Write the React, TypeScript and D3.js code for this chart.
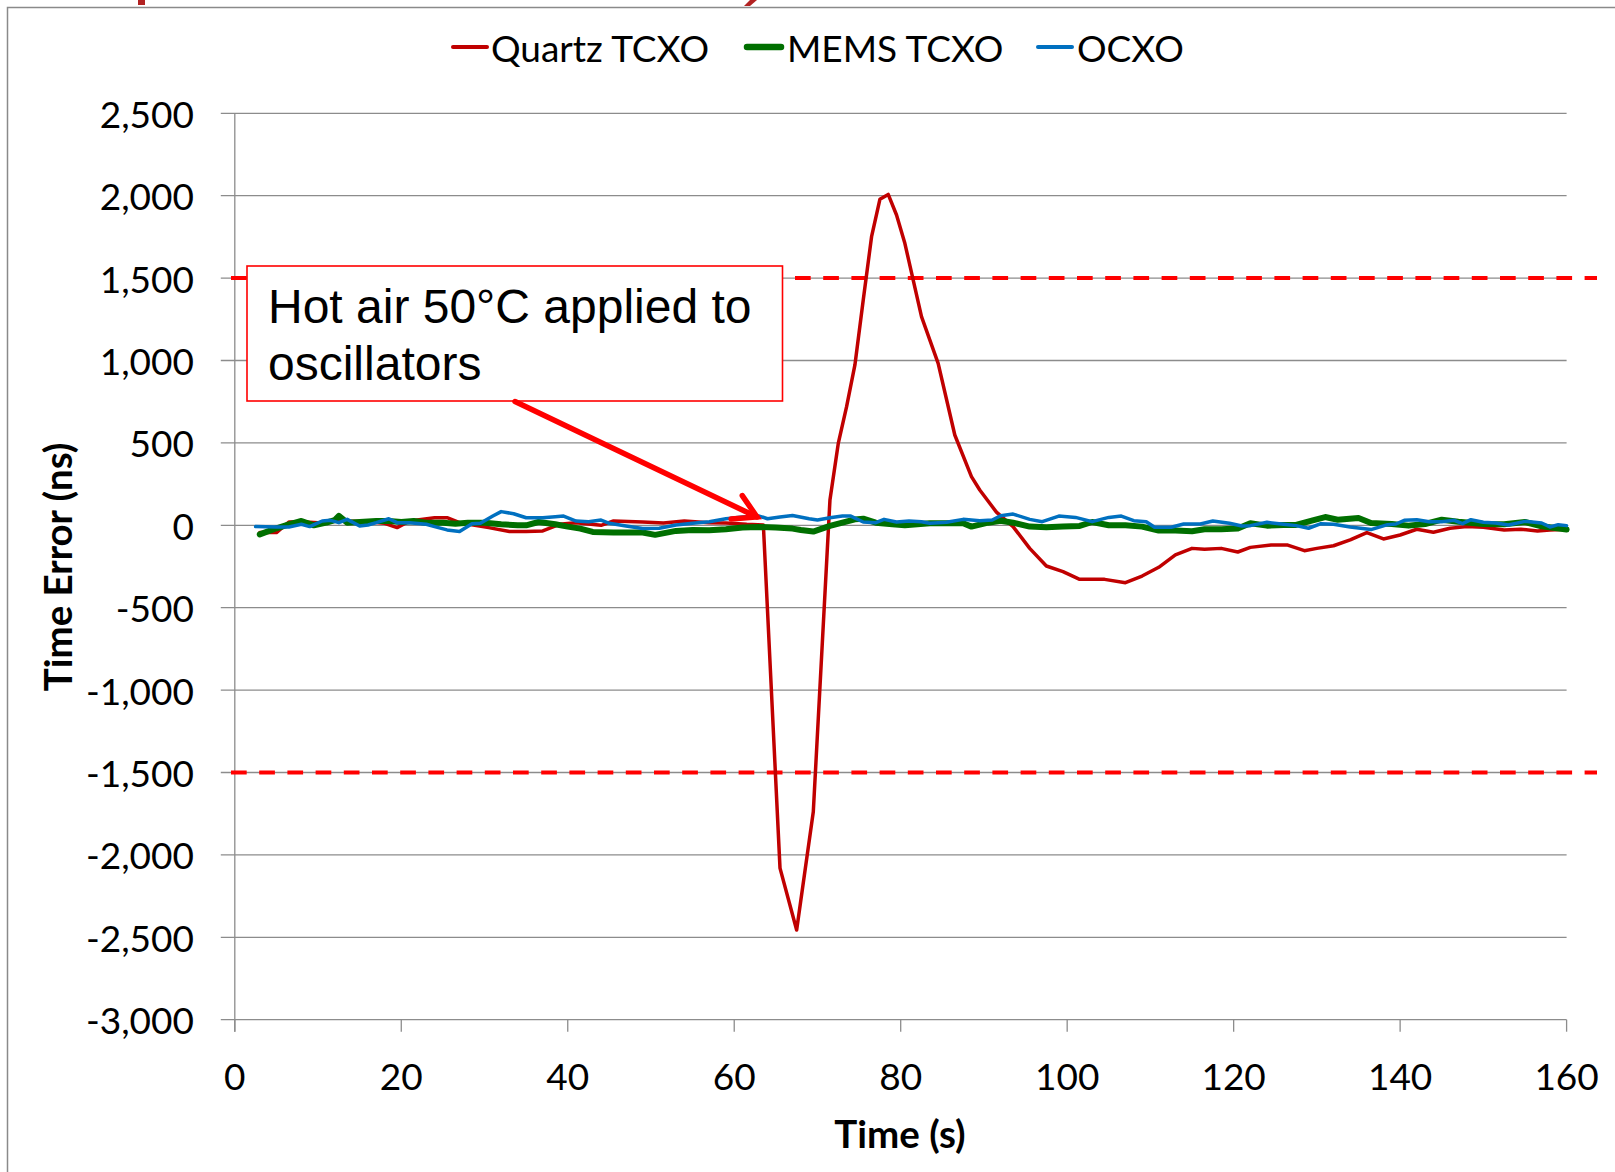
import React from "react";
import * as d3 from "d3";

type Pt = [number, number];

// Time (s), Time Error (ns)
const quartzTCXO: Pt[] = [
  [3, -44], [5, -44], [6.5, 20], [8, 22], [10, 15], [12, 25], [14, 25], [16, 22], [18, 12], [19.5, -14],
  [21, 26], [24, 46], [25.5, 46], [27, 16], [30.5, -14], [33, -38], [35, -38], [37, -34], [39, 6], [41, 16],
  [44, 0], [45.5, 26], [49, 20], [51.5, 14], [54, 26], [57, 16], [59, 14], [61.5, 6], [63.5, 2], [65.5, -2080],
  [67.5, -2456], [69.5, -1738], [71.5, 153], [72.5, 497], [73.5, 720], [74.5, 973], [75.5, 1367], [76.5, 1751],
  [77.5, 1978], [78.5, 2008], [79.5, 1883], [80.5, 1711], [82.5, 1266], [84.5, 983], [86.5, 548], [88.5, 295],
  [89.5, 214], [91.5, 80], [93.5, -8], [95.5, -140], [97.5, -247], [99.5, -281], [101.5, -328], [104.5, -328],
  [107, -348], [109, -308], [111, -255], [113, -180], [115, -140], [116.5, -146], [118.5, -140], [120.5, -162],
  [122, -134], [124.5, -120], [126.5, -120], [128.5, -154], [130, -140], [132, -124], [134, -89], [136, -44],
  [138, -83], [140, -59], [142, -24], [144, -42], [146, -18], [148, -8], [150, -12], [152.5, -28], [154.5, -24],
  [156.5, -34], [158, -28], [160, -24],
];

const memsTCXO: Pt[] = [
  [3, -55], [5, -18], [6.5, 6], [8, 26], [9.5, 0], [11, 16], [12, 32], [12.5, 57], [13.5, 16], [15, 20],
  [17, 26], [18.5, 26], [20, 20], [21.5, 26], [23, 16], [25, 16], [26.5, 10], [28, 16], [30, 16], [32, 6],
  [34, 0], [35, 0], [36.5, 20], [38.5, 6], [40, -8], [41.5, -20], [43, -40], [45.5, -44], [49, -44], [50.5, -58],
  [53, -34], [55, -28], [57, -30], [59, -24], [61, -14], [63, -10], [65, -14], [67, -20], [68, -28], [69.5, -38],
  [71.5, -4], [73, 16], [74.5, 36], [75.5, 40], [77, 16], [79, 6], [80.5, 0], [82, 6], [83.5, 12], [85.5, 12],
  [87.5, 12], [88.5, -8], [90.5, 16], [92, 28], [93.5, 16], [95.5, -8], [97.5, -12], [99.5, -8], [101.5, -4],
  [103, 20], [105, 0], [107, 0], [109, -8], [111, -32], [113, -32], [115, -36], [116.5, -24], [118.5, -24],
  [120.5, -20], [122, 12], [124, -2], [126, 2], [127.5, 2], [129.5, 30], [131, 50], [132.5, 34], [135, 44],
  [136.5, 14], [139, 8], [141, -2], [143, 8], [145, 34], [147, 22], [150, 8], [152.5, 6], [155, 20], [157, -6],
  [160, -26],
];

const ocxo: Pt[] = [
  [2.5, -8], [5, -10], [6.5, -10], [8, 6], [9, -8], [10.5, 26], [11.5, 30], [12.5, 16], [13.5, 36], [15, -4],
  [16, 2], [17, 16], [18.5, 40], [19.5, 16], [21, 16], [23, 6], [24, -8], [25.5, -28], [27, -38], [28.5, 10],
  [29.5, 12], [31, 56], [32, 83], [33.5, 70], [35, 46], [37, 46], [38.5, 52], [39.5, 56], [41, 26], [42.5, 22],
  [44, 32], [45, 12], [47, -4], [49, -20], [51, -18], [53, 2], [55, 12], [57, 22], [59, 40], [61, 50],
  [63, 56], [64, 40], [65.5, 50], [67, 60], [69, 40], [70, 32], [71.5, 46], [73, 56], [74, 56], [75.5, 20],
  [77, 16], [78, 36], [79.5, 20], [81, 26], [82.5, 22], [83.5, 12], [85.5, 18], [87.5, 36], [89.5, 28], [91, 32],
  [92, 58], [93.5, 68], [95.5, 36], [97, 22], [99, 56], [101, 48], [103, 22], [105, 48], [106.5, 56], [108, 28],
  [109.5, 22], [110.5, -12], [112.5, -12], [114, 8], [116, 8], [117.5, 26], [119.5, 12], [121, -4], [122, -2],
  [124, 18], [126, 6], [127.5, -2], [129, -18], [130.5, 10], [132, 6], [134, -10], [136.5, -26], [138.5, 4],
  [139.5, 8], [140.5, 30], [142, 34], [143.5, 22], [145, 22], [146.5, 30], [147.5, 10], [148.5, 34], [150, 18],
  [151.5, 14], [153, 2], [155, 24], [157, 14], [158, -10], [159, 4], [160, -2],
];

const seriesNames = ["Quartz TCXO", "MEMS TCXO", "OCXO"];
const seriesColors = ["#C00000", "#006F00", "#0070C0"];
const seriesWidths = [3.5, 6, 3.5];

const xTicks = [0, 20, 40, 60, 80, 100, 120, 140, 160];
const yTicks = [-3000, -2500, -2000, -1500, -1000, -500, 0, 500, 1000, 1500, 2000, 2500];
const limitLines = [1500, -1500];

const annotationLines = ["Hot air 50°C applied to", "oscillators"];

const W = 1615;
const H = 1172;
const FONT = "Lato, 'Open Sans', sans-serif";

export default function App() {
  const x = d3.scaleLinear().domain([0, 160]).range([234.8, 1566.6]);
  const y = d3.scaleLinear().domain([-3000, 2500]).range([1019.7, 113.3]);
  const line = d3
    .line<Pt>()
    .x((d) => x(d[0]))
    .y((d) => y(d[1]));
  const fmt = (v: number) => d3.format(",")(v).replace("\u2212", "-");
  const data = [quartzTCXO, memsTCXO, ocxo];

  // arrow geometry
  const ax0 = 515, ay0 = 401.5, ax1 = 757, ay1 = 517;
  const ang = Math.atan2(ay0 - ay1, ax0 - ax1);
  const armLen = 26;
  const arm = (da: number) => [ax1 + armLen * Math.cos(ang + da), ay1 + armLen * Math.sin(ang + da)];
  const a1 = arm(Math.PI / 6);
  const a2 = arm(-Math.PI / 6);

  const legendItems = [
    { lx: 453, tx: 491 },
    { lx: 747, tx: 787 },
    { lx: 1038, tx: 1077 },
  ];

  return (
    <svg
      width={W}
      height={H}
      style={{ position: "absolute", left: 0, top: 0, background: "#fff" }}
      fontFamily={FONT}
    >
      <rect x={0} y={0} width={W} height={H} fill="#fff" />
      {/* fragments of the slide title cut off above the picture */}
      <path d="M138,0 L145,0 L145,5 L138,5 Z" fill="#B22222" />
      <path d="M750,0 L757,0 L750,6 L744,6 Z" fill="#B22222" />
      {/* chart border */}
      <rect x={7.5} y={7.5} width={W + 20} height={H + 20} fill="none" stroke="#8a8a8a" strokeWidth={1.5} />

      {/* gridlines */}
      {yTicks.map((t) => (
        <g key={"y" + t}>
          <line x1={x(0) - 14} x2={x(160)} y1={y(t)} y2={y(t)} stroke="#8c8c8c" strokeWidth={1.3} />
          <text
            x={194}
            y={y(t)}
            textAnchor="end"
            dominantBaseline="central"
            fontSize={37}
            fill="#000"
          >
            {fmt(t)}
          </text>
        </g>
      ))}
      <line x1={x(0)} x2={x(0)} y1={y(2500)} y2={y(-3000) + 12} stroke="#8c8c8c" strokeWidth={1.3} />
      {xTicks.map((t) => (
        <g key={"x" + t}>
          <line x1={x(t)} x2={x(t)} y1={y(-3000)} y2={y(-3000) + 12} stroke="#8c8c8c" strokeWidth={1.3} />
          <text x={x(t)} y={1075} textAnchor="middle" dominantBaseline="central" fontSize={37} fill="#000">
            {t}
          </text>
        </g>
      ))}

      {/* axis titles */}
      <text x={900} y={1133} textAnchor="middle" dominantBaseline="central" fontSize={38.5} fontWeight="bold">
        Time (s)
      </text>
      <text
        transform={`translate(57,567) rotate(-90)`}
        textAnchor="middle"
        dominantBaseline="central"
        fontSize={38.5}
        fontWeight="bold"
      >
        Time Error (ns)
      </text>

      {/* limit lines */}
      {limitLines.map((v) => (
        <line
          key={"lim" + v}
          x1={231}
          x2={1597}
          y1={y(v)}
          y2={y(v)}
          stroke="#FF0000"
          strokeWidth={4}
          strokeDasharray="15.7 12.5"
        />
      ))}

      {/* series */}
      {data.map((d, i) => (
        <path
          key={seriesNames[i]}
          d={line(d) || ""}
          fill="none"
          stroke={seriesColors[i]}
          strokeWidth={seriesWidths[i]}
          strokeLinejoin="round"
          strokeLinecap="round"
        />
      ))}

      {/* legend */}
      {seriesNames.map((n, i) => (
        <g key={"leg" + n}>
          <line
            x1={legendItems[i].lx}
            x2={legendItems[i].lx + 34}
            y1={47}
            y2={47}
            stroke={seriesColors[i]}
            strokeWidth={seriesWidths[i] + 0.5}
            strokeLinecap="round"
          />
          <text x={legendItems[i].tx} y={47} dominantBaseline="central" fontSize={37} fill="#000">
            {n}
          </text>
        </g>
      ))}

      {/* annotation */}
      <rect x={247} y={266} width={535.5} height={135} fill="#fff" stroke="#FF0000" strokeWidth={1.6} />
      {annotationLines.map((s, i) => (
        <text
          key={s}
          x={268}
          y={323 + i * 57}
          fontSize={48}
          fontFamily="'Liberation Sans', Arial, sans-serif"
          fill="#000"
        >
          {s}
        </text>
      ))}
      <line x1={ax0} y1={ay0} x2={ax1} y2={ay1} stroke="#FF0000" strokeWidth={5.5} strokeLinecap="round" />
      <polyline
        points={`${a1[0]},${a1[1]} ${ax1},${ay1} ${a2[0]},${a2[1]}`}
        fill="none"
        stroke="#FF0000"
        strokeWidth={5.5}
        strokeLinecap="round"
        strokeLinejoin="miter"
      />
    </svg>
  );
}
